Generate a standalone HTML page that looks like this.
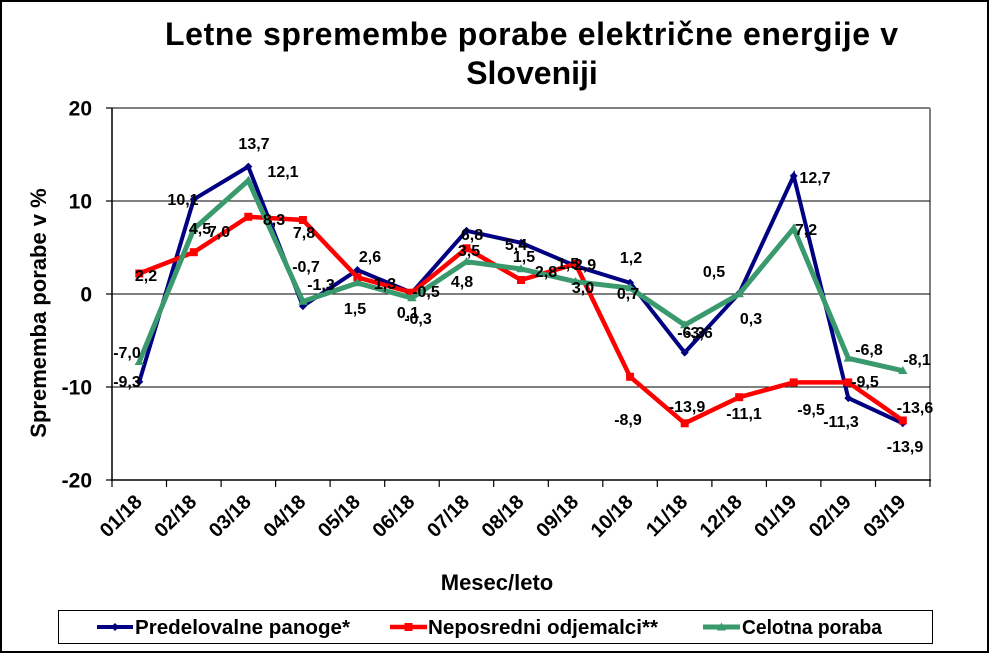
<!DOCTYPE html>
<html>
<head>
<meta charset="utf-8">
<style>
  html,body{margin:0;padding:0;background:#fff;}
  svg{display:block;}
  text{font-family:"Liberation Sans",Arial,sans-serif;font-weight:bold;fill:#000;}
</style>
</head>
<body>
<svg width="991" height="654" viewBox="0 0 991 654" xmlns="http://www.w3.org/2000/svg">
  <rect x="0" y="0" width="991" height="654" fill="#fff"/>
  <rect x="1" y="1" width="987" height="651" fill="none" stroke="#000" stroke-width="2"/>

  <text x="165" y="45" font-size="32" textLength="733" lengthAdjust="spacing">Letne spremembe  porabe električne energije v</text>
  <text x="532" y="84" font-size="32" text-anchor="middle">Sloveniji</text>

  <line x1="112" y1="108" x2="930" y2="108" stroke="#808080" stroke-width="2"/>
  <line x1="930" y1="108" x2="930" y2="480" stroke="#808080" stroke-width="2"/>
  <line x1="112" y1="201" x2="930" y2="201" stroke="#000" stroke-width="1"/>
  <line x1="112" y1="294" x2="930" y2="294" stroke="#000" stroke-width="1"/>
  <line x1="112" y1="387" x2="930" y2="387" stroke="#000" stroke-width="1"/>
  <line x1="112" y1="108" x2="112" y2="481" stroke="#000" stroke-width="1.5"/>
  <line x1="111" y1="480" x2="931" y2="480" stroke="#000" stroke-width="1.5"/>

  <g stroke="#000" stroke-width="1.2">
    <line x1="106" y1="108" x2="112" y2="108"/>
    <line x1="106" y1="201" x2="112" y2="201"/>
    <line x1="106" y1="294" x2="112" y2="294"/>
    <line x1="106" y1="387" x2="112" y2="387"/>
    <line x1="106" y1="480" x2="112" y2="480"/>
  </g>
  <g font-size="21" text-anchor="end">
    <text x="92" y="115.5">20</text>
    <text x="92" y="208.5">10</text>
    <text x="92" y="301.5">0</text>
    <text x="92" y="394.5">-10</text>
    <text x="92" y="487.5">-20</text>
  </g>

  <g stroke="#000" stroke-width="1.2">
    <line x1="112" y1="480" x2="112" y2="487"/>
    <line x1="166.5" y1="480" x2="166.5" y2="487"/>
    <line x1="221.1" y1="480" x2="221.1" y2="487"/>
    <line x1="275.6" y1="480" x2="275.6" y2="487"/>
    <line x1="330.1" y1="480" x2="330.1" y2="487"/>
    <line x1="384.7" y1="480" x2="384.7" y2="487"/>
    <line x1="439.2" y1="480" x2="439.2" y2="487"/>
    <line x1="493.7" y1="480" x2="493.7" y2="487"/>
    <line x1="548.3" y1="480" x2="548.3" y2="487"/>
    <line x1="602.8" y1="480" x2="602.8" y2="487"/>
    <line x1="657.3" y1="480" x2="657.3" y2="487"/>
    <line x1="711.9" y1="480" x2="711.9" y2="487"/>
    <line x1="766.4" y1="480" x2="766.4" y2="487"/>
    <line x1="820.9" y1="480" x2="820.9" y2="487"/>
    <line x1="875.5" y1="480" x2="875.5" y2="487"/>
    <line x1="930" y1="480" x2="930" y2="487"/>
  </g>
  <g font-size="20" text-anchor="end">
    <text transform="translate(143.3,503) rotate(-45)">01/18</text>
    <text transform="translate(197.8,503) rotate(-45)">02/18</text>
    <text transform="translate(252.3,503) rotate(-45)">03/18</text>
    <text transform="translate(306.9,503) rotate(-45)">04/18</text>
    <text transform="translate(361.4,503) rotate(-45)">05/18</text>
    <text transform="translate(415.9,503) rotate(-45)">06/18</text>
    <text transform="translate(470.5,503) rotate(-45)">07/18</text>
    <text transform="translate(525,503) rotate(-45)">08/18</text>
    <text transform="translate(579.6,503) rotate(-45)">09/18</text>
    <text transform="translate(634.1,503) rotate(-45)">10/18</text>
    <text transform="translate(688.7,503) rotate(-45)">11/18</text>
    <text transform="translate(743.2,503) rotate(-45)">12/18</text>
    <text transform="translate(797.7,503) rotate(-45)">01/19</text>
    <text transform="translate(852.3,503) rotate(-45)">02/19</text>
    <text transform="translate(906.8,503) rotate(-45)">03/19</text>
  </g>

  <text x="497" y="590" font-size="22" text-anchor="middle">Mesec/leto</text>
  <text transform="translate(46,313) rotate(-90)" font-size="22" text-anchor="middle">Sprememba porabe v %</text>

  <polyline fill="none" stroke="#000080" stroke-width="4" stroke-linejoin="miter"
    points="139.3,381.7 193.8,199.3 248.3,166.6 302.9,306.1 357.4,270 411.9,292.7 466.5,230.8 521,242.8 575.6,266 630.1,282.8 684.7,352.6 739.2,293.3 793.7,175.9 848.3,398.1 902.8,423.3"/>
  <g fill="#000080">
    <polygon points="139.3,377.7 143.3,381.7 139.3,385.7 135.3,381.7"/>
    <polygon points="193.8,195.3 197.8,199.3 193.8,203.3 189.8,199.3"/>
    <polygon points="248.3,162.6 252.3,166.6 248.3,170.6 244.3,166.6"/>
    <polygon points="302.9,302.1 306.9,306.1 302.9,310.1 298.9,306.1"/>
    <polygon points="357.4,266 361.4,270 357.4,274 353.4,270"/>
    <polygon points="411.9,288.7 415.9,292.7 411.9,296.7 407.9,292.7"/>
    <polygon points="466.5,226.8 470.5,230.8 466.5,234.8 462.5,230.8"/>
    <polygon points="521,238.8 525,242.8 521,246.8 517,242.8"/>
    <polygon points="575.6,262 579.6,266 575.6,270 571.6,266"/>
    <polygon points="630.1,278.8 634.1,282.8 630.1,286.8 626.1,282.8"/>
    <polygon points="684.7,348.6 688.7,352.6 684.7,356.6 680.7,352.6"/>
    <polygon points="739.2,289.3 743.2,293.3 739.2,297.3 735.2,293.3"/>
    <polygon points="793.7,171.9 797.7,175.9 793.7,179.9 789.7,175.9"/>
    <polygon points="848.3,394.1 852.3,398.1 848.3,402.1 844.3,398.1"/>
    <polygon points="902.8,419.3 906.8,423.3 902.8,427.3 898.8,423.3"/>
  </g>

  <polyline fill="none" stroke="#FF0000" stroke-width="4.5" stroke-linejoin="miter"
    points="139.3,273.5 193.8,252.2 248.3,216.8 302.9,220 357.4,277.3 411.9,292.7 466.5,248.3 521,280 575.6,264 630.1,376.8 684.7,423.3 739.2,397.2 793.7,382.4 848.3,382.4 902.8,420.5"/>
  <g fill="#FF0000">
    <rect x="135.3" y="269.5" width="8" height="8"/>
    <rect x="189.8" y="248.2" width="8" height="8"/>
    <rect x="244.3" y="212.8" width="8" height="8"/>
    <rect x="298.9" y="216" width="8" height="8"/>
    <rect x="353.4" y="273.3" width="8" height="8"/>
    <rect x="407.9" y="288.7" width="8" height="8"/>
    <rect x="462.5" y="244.3" width="8" height="8"/>
    <rect x="517" y="276" width="8" height="8"/>
    <rect x="571.6" y="260" width="8" height="8"/>
    <rect x="626.1" y="372.8" width="8" height="8"/>
    <rect x="680.7" y="419.3" width="8" height="8"/>
    <rect x="735.2" y="393.2" width="8" height="8"/>
    <rect x="789.7" y="378.4" width="8" height="8"/>
    <rect x="844.3" y="378.4" width="8" height="8"/>
    <rect x="898.8" y="416.5" width="8" height="8"/>
  </g>

  <polyline fill="none" stroke="#3A9A6E" stroke-width="5" stroke-linejoin="miter"
    points="139.3,361.7 193.8,229 248.3,180.5 302.9,301.5 357.4,283 411.9,298 466.5,261.7 521,269 575.6,281.7 630.1,288 684.7,325 739.2,294 793.7,228.3 848.3,358.3 902.8,370.7"/>
  <g fill="#3A9A6E">
    <polygon points="139.3,357 144,365 134.6,365"/>
    <polygon points="193.8,224.3 198.5,232.3 189.1,232.3"/>
    <polygon points="248.3,175.8 253,183.8 243.6,183.8"/>
    <polygon points="302.9,296.8 307.6,304.8 298.2,304.8"/>
    <polygon points="357.4,278.3 362.1,286.3 352.7,286.3"/>
    <polygon points="411.9,293.3 416.6,301.3 407.2,301.3"/>
    <polygon points="466.5,257 471.2,265 461.8,265"/>
    <polygon points="521,264.3 525.7,272.3 516.3,272.3"/>
    <polygon points="575.6,277 580.3,285 570.9,285"/>
    <polygon points="630.1,283.3 634.8,291.3 625.4,291.3"/>
    <polygon points="684.7,320.3 689.4,328.3 680,328.3"/>
    <polygon points="739.2,289.3 743.9,297.3 734.5,297.3"/>
    <polygon points="793.7,223.6 798.4,231.6 789,231.6"/>
    <polygon points="848.3,353.6 853,361.6 843.6,361.6"/>
    <polygon points="902.8,366 907.5,374 898.1,374"/>
  </g>

  <g font-size="16" text-anchor="middle">
    <text x="254" y="149">13,7</text>
    <text x="283" y="177">12,1</text>
    <text x="183" y="205">10,1</text>
    <text x="200" y="234">4,5</text>
    <text x="219" y="237">7,0</text>
    <text x="274" y="225">8,3</text>
    <text x="304" y="238">7,8</text>
    <text x="146" y="281">2,2</text>
    <text x="306" y="272">-0,7</text>
    <text x="321" y="290">-1,3</text>
    <text x="370" y="262">2,6</text>
    <text x="385" y="289">1,3</text>
    <text x="355" y="314">1,5</text>
    <text x="426" y="297">-0,5</text>
    <text x="408" y="318">0,1</text>
    <text x="418" y="324">-0,3</text>
    <text x="472" y="240">6,8</text>
    <text x="469" y="256">3,5</text>
    <text x="462" y="287">4,8</text>
    <text x="516" y="250">5,4</text>
    <text x="524" y="262">1,5</text>
    <text x="546" y="277">2,8</text>
    <text x="568" y="269">1,5</text>
    <text x="585" y="270">2,9</text>
    <text x="583" y="293">3,0</text>
    <text x="631" y="263">1,2</text>
    <text x="628" y="299">0,7</text>
    <text x="714" y="277">0,5</text>
    <text x="751" y="324">0,3</text>
    <text x="691" y="338">-6,3</text>
    <text x="699" y="338">-3,6</text>
    <text x="815" y="183">12,7</text>
    <text x="806" y="235">7,2</text>
    <text x="869" y="355">-6,8</text>
    <text x="917" y="365">-8,1</text>
    <text x="865" y="387">-9,5</text>
    <text x="915" y="413">-13,6</text>
    <text x="687" y="412">-13,9</text>
    <text x="744" y="419">-11,1</text>
    <text x="811" y="415">-9,5</text>
    <text x="841" y="427">-11,3</text>
    <text x="905" y="452">-13,9</text>
    <text x="628" y="425">-8,9</text>
    <text x="127" y="358">-7,0</text>
    <text x="127" y="387">-9,3</text>
  </g>

  <rect x="58.5" y="610.5" width="874" height="33" fill="#fff" stroke="#000" stroke-width="1"/>
  <line x1="97" y1="627" x2="133" y2="627" stroke="#000080" stroke-width="4"/>
  <polygon points="115,623 119,627 115,631 111,627" fill="#000080"/>
  <text x="135" y="634" font-size="20" textLength="215" lengthAdjust="spacingAndGlyphs">Predelovalne panoge*</text>

  <line x1="390" y1="627" x2="427" y2="627" stroke="#FF0000" stroke-width="4.5"/>
  <rect x="404.5" y="623" width="8" height="8" fill="#FF0000"/>
  <text x="428" y="634" font-size="20" textLength="230" lengthAdjust="spacingAndGlyphs">Neposredni odjemalci**</text>

  <line x1="703" y1="627" x2="740" y2="627" stroke="#3A9A6E" stroke-width="5"/>
  <polygon points="721.5,622.5 726,630.5 717,630.5" fill="#3A9A6E"/>
  <text x="742" y="634" font-size="20" textLength="140" lengthAdjust="spacingAndGlyphs">Celotna poraba</text>
</svg>
</body>
</html>
